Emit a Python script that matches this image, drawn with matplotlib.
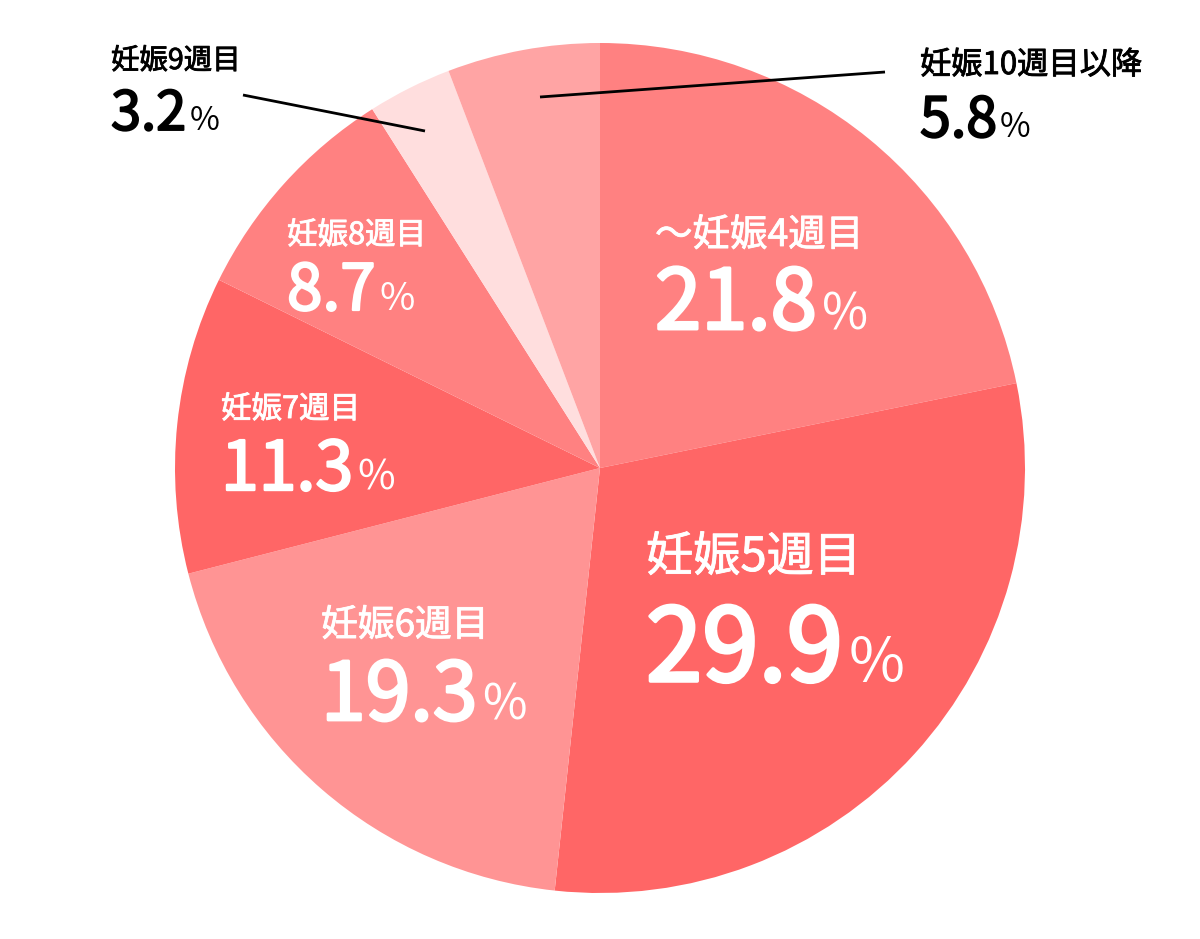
import matplotlib
matplotlib.use("Agg")
import matplotlib.pyplot as plt
import matplotlib.patheffects as pe

plt.rcParams['font.family'] = ['Noto Sans CJK JP', 'DejaVu Sans']

categories = ["～妊娠4週目", "妊娠5週目", "妊娠6週目", "妊娠7週目", "妊娠8週目", "妊娠9週目", "妊娠10週目以降"]
values = [21.8, 29.9, 19.3, 11.3, 8.7, 3.2, 5.8]
value_labels = ["21.8", "29.9", "19.3", "11.3", "8.7", "3.2", "5.8"]
colors = ["#FF8181", "#FF6666", "#FF9494", "#FF6666", "#FF8181", "#FFDEDE", "#FFA4A4"]

W, H = 1200, 939
fig = plt.figure(figsize=(W / 100, H / 100), dpi=100)
ax = fig.add_axes([0, 0, 1, 1])

def Y(py):
    return H - py

ax.pie(values, colors=colors, startangle=90, counterclock=False,
       center=(600, Y(468)), radius=425,
       wedgeprops=dict(linewidth=0, antialiased=True))
ax.set_xlim(0, W)
ax.set_ylim(0, H)
ax.set_aspect('auto')
ax.axis('off')

# label layout: (x_left, title_baseline, title_size, num_baseline, num_size, color)
layout = [
    (655, 246, 27, 329, 60, 'white'),
    (646, 571, 34, 681, 73, 'white'),
    (321, 636, 26.5, 720, 58, 'white'),
    (221, 418, 22, 490, 49, 'white'),
    (287, 244, 22, 310, 46, 'white'),
    (111, 69, 20.5, 130, 39, 'black'),
    (920, 74, 22.5, 137, 40, 'black'),
]

fig.canvas.draw()
renderer = fig.canvas.get_renderer()
for cat, val, (x, tb, ts, nb, ns, c) in zip(categories, value_labels, layout):
    ax.text(x, Y(tb), cat, fontsize=ts, color=c, ha='left', va='baseline', fontweight='regular',
            path_effects=[pe.withStroke(linewidth=0.6, foreground=c)])
    t = ax.text(x, Y(nb), val, fontsize=ns, color=c, ha='left', va='baseline', fontweight='regular',
                path_effects=[pe.withStroke(linewidth=ns * 0.035, foreground=c)])
    bb = t.get_window_extent(renderer=renderer)
    ax.text(bb.x1 + ns * 0.08, Y(nb), "%", fontsize=ns * 0.6, color=c, ha='left', va='baseline',
            fontweight='regular')

# leader lines
ax.plot([243, 425], [Y(95), Y(131)], color='black', lw=2, solid_capstyle='butt')
ax.plot([540, 885], [Y(97), Y(72)], color='black', lw=2, solid_capstyle='butt')

fig.savefig("out.png", dpi=100)
